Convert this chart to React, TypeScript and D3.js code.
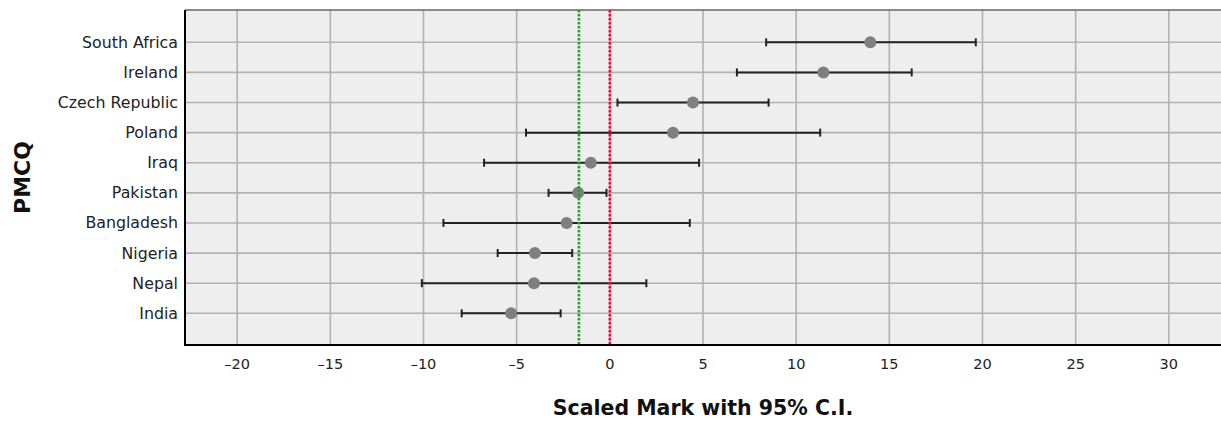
import React from "react";
import * as d3 from "d3";

const categories = ["South Africa", "Ireland", "Czech Republic", "Poland", "Iraq", "Pakistan", "Bangladesh", "Nigeria", "Nepal", "India"];
const means = [13.98, 11.46, 4.46, 3.39, -1.02, -1.7, -2.32, -4.02, -4.07, -5.3];
const lows = [8.39, 6.82, 0.41, -4.5, -6.75, -3.29, -8.93, -6.02, -10.09, -7.95];
const highs = [19.64, 16.2, 8.52, 11.29, 4.79, -0.18, 4.29, -2.02, 1.96, -2.64];
const xTicks = [-20, -15, -10, -5, 0, 5, 10, 15, 20, 25, 30];
const refGreen = -1.66;
const refRed = 0;

const W = 1221;
const H = 422;
const L = 185, R = 1221, T = 10, B = 345;
const FONT = "'DejaVu Sans', sans-serif";

export default function App() {
  const x = d3.scaleLinear().domain([-22.8, 32.8]).range([L, R]);
  const y = d3.scalePoint<string>().domain(categories).range([42.3, 313.3]);
  const fmt = (v: number) => (v < 0 ? "\u2013" + Math.abs(v) : String(v));

  return (
    <svg width={W} height={H} style={{ position: "absolute", left: 0, top: 0, background: "#fff" }}>
      <rect x={L} y={T} width={R - L} height={B - T} fill="#eeeeee" />
      {xTicks.map((t) => (
        <line key={"gx" + t} x1={x(t)} x2={x(t)} y1={T} y2={B} stroke="#b2b2b2" strokeWidth={1.6} />
      ))}
      {categories.map((c) => (
        <line key={"gy" + c} x1={L} x2={R} y1={y(c)} y2={y(c)} stroke="#b2b2b2" strokeWidth={1.6} />
      ))}
      <line x1={L} x2={R} y1={T} y2={T} stroke="#666" strokeWidth={1.5} />
      {categories.map((c, i) => {
        const cy = y(c) as number;
        return (
          <g key={"e" + c}>
            <line x1={x(lows[i])} x2={x(highs[i])} y1={cy} y2={cy} stroke="#222" strokeWidth={2} />
            <line x1={x(lows[i])} x2={x(lows[i])} y1={cy - 4} y2={cy + 4} stroke="#222" strokeWidth={2} />
            <line x1={x(highs[i])} x2={x(highs[i])} y1={cy - 4} y2={cy + 4} stroke="#222" strokeWidth={2} />
            <circle cx={x(means[i])} cy={cy} r={6} fill="#7f7f7f" />
          </g>
        );
      })}
      <line x1={x(refGreen)} x2={x(refGreen)} y1={T} y2={B} stroke="#2e9a2e" strokeWidth={2.6} strokeDasharray="2.4,1.6" />
      <line x1={x(refRed)} x2={x(refRed)} y1={T} y2={B} stroke="#e0103c" strokeWidth={2.6} strokeDasharray="2.4,1.6" />
      <line x1={L} x2={L} y1={T} y2={B + 1} stroke="#000" strokeWidth={2} />
      <line x1={L} x2={R} y1={B} y2={B} stroke="#000" strokeWidth={2} />
      {categories.map((c) => (
        <text key={"yl" + c} x={178} y={y(c)} dy="0.35em" textAnchor="end" fontFamily={FONT} fontSize={15.8} fill="#222">
          {c}
        </text>
      ))}
      {xTicks.map((t) => (
        <text key={"xl" + t} x={x(t)} y={369} textAnchor="middle" fontFamily={FONT} fontSize={14.5} fill="#222">
          {fmt(t)}
        </text>
      ))}
      <text x={(L + R) / 2} y={415} textAnchor="middle" fontFamily={FONT} fontSize={20.5} fontWeight="bold" fill="#111">
        Scaled Mark with 95% C.I.
      </text>
      <text transform={`translate(30,${(T + B) / 2}) rotate(-90)`} textAnchor="middle" fontFamily={FONT} fontSize={22} fontWeight="bold" fill="#111">
        PMCQ
      </text>
    </svg>
  );
}
